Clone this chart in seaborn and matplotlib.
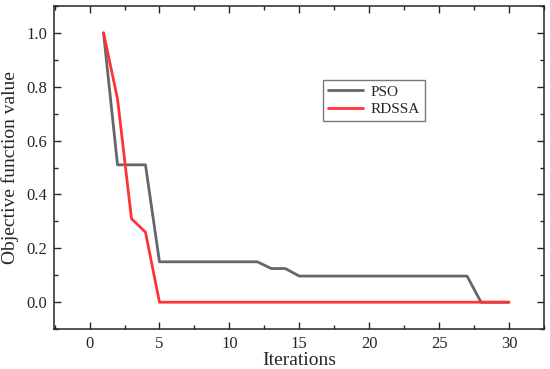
import numpy as np
import pandas as pd
import seaborn as sns
import matplotlib.pyplot as plt
from matplotlib.ticker import MultipleLocator

# convergence curves
iterations = list(range(1, 31))
pso = [1.0, 0.51, 0.51, 0.51, 0.15, 0.15, 0.15, 0.15, 0.15, 0.15,
       0.15, 0.15, 0.125, 0.125, 0.097, 0.097, 0.097, 0.097, 0.097, 0.097,
       0.097, 0.097, 0.097, 0.097, 0.097, 0.097, 0.097, 0.0, 0.0, 0.0]
rdssa = [1.0, 0.755, 0.31, 0.26, 0.0, 0.0, 0.0, 0.0, 0.0, 0.0,
         0.0, 0.0, 0.0, 0.0, 0.0, 0.0, 0.0, 0.0, 0.0, 0.0,
         0.0, 0.0, 0.0, 0.0, 0.0, 0.0, 0.0, 0.0, 0.0, 0.0]

df = pd.DataFrame({
    "Iterations": iterations * 2,
    "value": pso + rdssa,
    "method": ["PSO"] * len(pso) + ["RDSSA"] * len(rdssa),
})

sns.set_style("ticks")
plt.rcParams["font.family"] = ["Liberation Serif", "DejaVu Serif"]

fig = plt.figure(figsize=(5.5, 3.69), dpi=100)
ax = fig.add_axes([0.098, 0.108, 0.891, 0.876])

sns.lineplot(data=df, x="Iterations", y="value", hue="method",
             palette={"PSO": "#666666", "RDSSA": "#ff3333"},
             linewidth=2, ax=ax)

ax.set_xlim(-2.55, 32.5)
ax.set_ylim(-0.1, 1.1)
ax.xaxis.set_major_locator(MultipleLocator(5))
ax.xaxis.set_minor_locator(MultipleLocator(2.5))
ax.yaxis.set_major_locator(MultipleLocator(0.2))
ax.yaxis.set_minor_locator(MultipleLocator(0.1))
ax.yaxis.set_major_formatter(plt.FormatStrFormatter("%.1f"))
ax.tick_params(which="both", direction="in", top=True, right=True,
               labelsize=12, width=1.0)
ax.tick_params(which="major", length=5, pad=5)
ax.tick_params(which="minor", length=3)
for s in ax.spines.values():
    s.set_linewidth(1.1)

ax.set_xlabel("Iterations", fontsize=14, labelpad=0)
ax.set_ylabel("Objective function value", fontsize=14, labelpad=5)

leg = ax.legend(loc="upper left", bbox_to_anchor=(0.55, 0.77),
                borderaxespad=0, fontsize=11, frameon=True, fancybox=False,
                handlelength=2.3, borderpad=0.3, labelspacing=0.25,
                handletextpad=0.5)
leg.get_frame().set_edgecolor("#555555")
leg.get_frame().set_linewidth(1.0)

fig.savefig("out.png", dpi=100)
